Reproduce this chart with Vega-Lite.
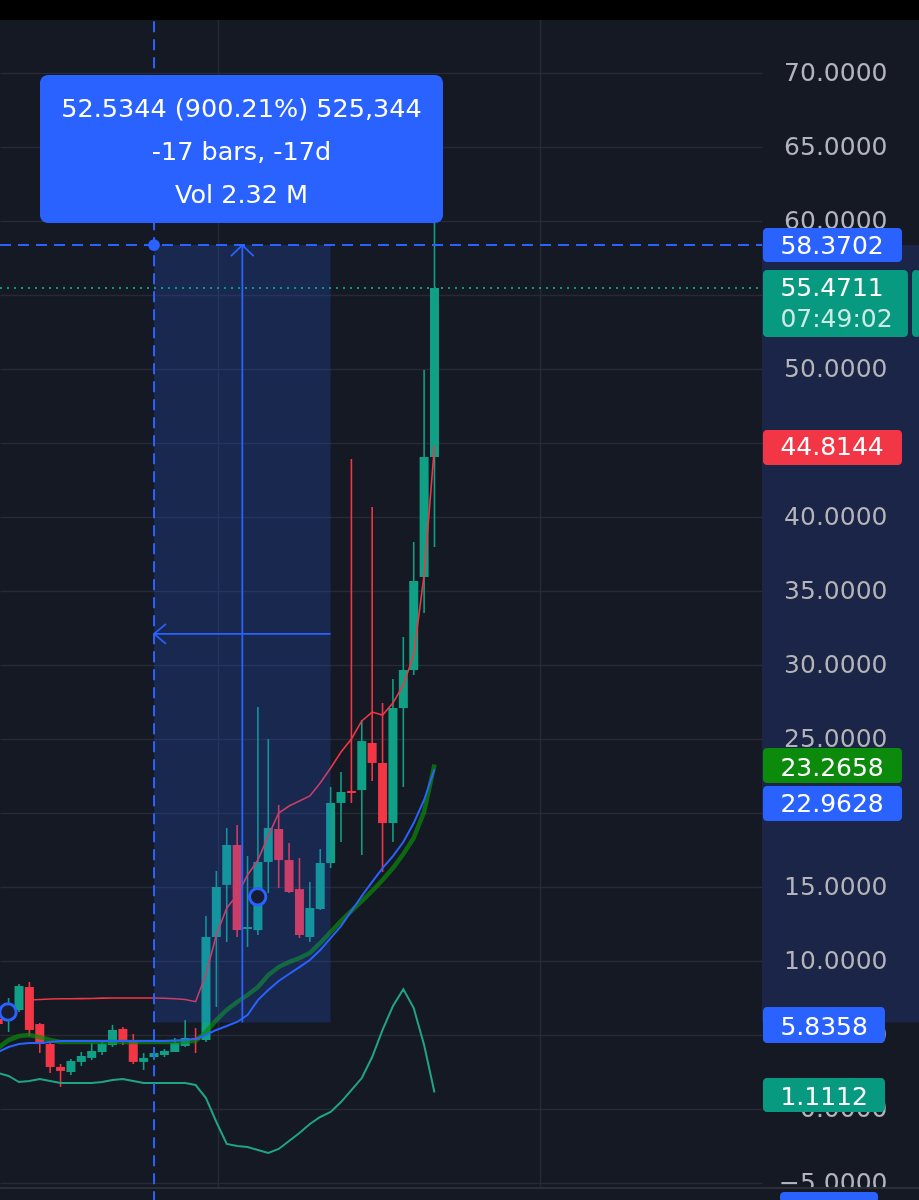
{
  "$schema": "https://vega.github.io/schema/vega-lite/v6.json",
  "width": 762,
  "height": 1200,
  "autosize": {"type": "none"},
  "padding": {"left": 0, "top": 0, "right": 157, "bottom": 0},
  "background": "#151924",
  "config": {"view": {"stroke": null}, "font": "DejaVu Sans", "scale": {"continuousPadding": 0}},
  "datasets": {
    "bars": [
      {"i":0,"o":6.08,"h":6.35,"l":5.34,"c":5.74,"r":null,"b":3.85,"g":4.12,"t":2.43},
      {"i":1,"o":6.15,"h":7.50,"l":5.20,"c":7.09,"r":null,"b":4.19,"g":4.66,"t":2.23},
      {"i":2,"o":6.69,"h":8.45,"l":6.55,"c":8.31,"r":null,"b":4.39,"g":4.93,"t":1.82},
      {"i":3,"o":8.24,"h":8.58,"l":4.93,"c":5.34,"r":7.36,"b":4.46,"g":5.00,"t":1.89},
      {"i":4,"o":5.74,"h":5.81,"l":3.78,"c":4.39,"r":7.40,"b":4.46,"g":4.86,"t":2.03},
      {"i":5,"o":4.39,"h":4.53,"l":2.43,"c":2.84,"r":7.43,"b":4.53,"g":4.66,"t":1.89},
      {"i":6,"o":2.84,"h":3.04,"l":1.49,"c":2.57,"r":7.45,"b":4.59,"g":4.53,"t":1.76},
      {"i":7,"o":2.50,"h":3.38,"l":2.30,"c":3.24,"r":7.45,"b":4.59,"g":4.53,"t":1.76},
      {"i":8,"o":3.18,"h":3.85,"l":2.91,"c":3.58,"r":7.46,"b":4.59,"g":4.53,"t":1.76},
      {"i":9,"o":3.45,"h":4.46,"l":3.31,"c":3.92,"r":7.47,"b":4.59,"g":4.53,"t":1.76},
      {"i":10,"o":3.85,"h":4.66,"l":3.65,"c":4.39,"r":7.49,"b":4.59,"g":4.53,"t":1.82},
      {"i":11,"o":4.32,"h":5.68,"l":4.19,"c":5.34,"r":7.50,"b":4.59,"g":4.53,"t":1.96},
      {"i":12,"o":5.41,"h":5.54,"l":4.32,"c":4.59,"r":7.50,"b":4.59,"g":4.53,"t":2.03},
      {"i":13,"o":4.66,"h":5.07,"l":3.04,"c":3.18,"r":7.50,"b":4.59,"g":4.53,"t":1.89},
      {"i":14,"o":3.18,"h":3.78,"l":2.64,"c":3.45,"r":7.50,"b":4.59,"g":4.53,"t":1.76},
      {"i":15,"o":3.51,"h":4.19,"l":3.31,"c":3.78,"r":7.50,"b":4.59,"g":4.53,"t":1.76},
      {"i":16,"o":3.65,"h":4.05,"l":3.51,"c":3.92,"r":7.48,"b":4.59,"g":4.53,"t":1.76},
      {"i":17,"o":3.85,"h":4.80,"l":3.85,"c":4.46,"r":7.45,"b":4.62,"g":4.53,"t":1.76},
      {"i":18,"o":4.26,"h":6.01,"l":4.19,"c":4.80,"r":7.40,"b":4.66,"g":4.55,"t":1.76},
      {"i":19,"o":4.80,"h":5.47,"l":3.78,"c":4.66,"r":7.25,"b":4.73,"g":4.60,"t":1.62},
      {"i":20,"o":4.66,"h":13.04,"l":4.53,"c":11.62,"r":9.10,"b":5.00,"g":5.20,"t":0.74},
      {"i":21,"o":11.62,"h":16.08,"l":6.89,"c":15.00,"r":11.76,"b":5.34,"g":6.01,"t":-0.88},
      {"i":22,"o":15.14,"h":18.99,"l":11.28,"c":17.84,"r":13.58,"b":5.61,"g":6.69,"t":-2.36},
      {"i":23,"o":17.84,"h":19.19,"l":11.62,"c":12.09,"r":14.46,"b":5.88,"g":7.23,"t":-2.50},
      {"i":24,"o":12.16,"h":17.09,"l":10.95,"c":12.30,"r":15.81,"b":6.35,"g":7.70,"t":-2.57},
      {"i":25,"o":12.09,"h":27.16,"l":11.76,"c":16.69,"r":16.82,"b":7.36,"g":8.24,"t":-2.77},
      {"i":26,"o":16.69,"h":25.00,"l":14.59,"c":18.99,"r":18.45,"b":8.04,"g":9.05,"t":-2.97},
      {"i":27,"o":18.92,"h":20.54,"l":14.93,"c":16.82,"r":20.00,"b":8.65,"g":9.59,"t":-2.70},
      {"i":28,"o":16.82,"h":17.97,"l":14.59,"c":14.66,"r":20.47,"b":9.12,"g":9.93,"t":-2.16},
      {"i":29,"o":14.86,"h":16.96,"l":11.55,"c":11.76,"r":20.81,"b":9.59,"g":10.20,"t":-1.62},
      {"i":30,"o":11.62,"h":15.34,"l":11.28,"c":13.58,"r":21.15,"b":10.07,"g":10.54,"t":-1.01},
      {"i":31,"o":13.51,"h":17.57,"l":13.45,"c":16.62,"r":22.03,"b":10.74,"g":11.22,"t":-0.54},
      {"i":32,"o":16.62,"h":21.76,"l":16.28,"c":20.68,"r":23.04,"b":11.55,"g":11.96,"t":-0.20},
      {"i":33,"o":20.68,"h":22.77,"l":18.04,"c":21.42,"r":24.12,"b":12.36,"g":12.70,"t":0.47},
      {"i":34,"o":21.49,"h":43.92,"l":20.68,"c":21.35,"r":25.00,"b":13.38,"g":13.38,"t":1.28},
      {"i":35,"o":21.55,"h":26.28,"l":17.16,"c":24.86,"r":26.22,"b":14.39,"g":14.05,"t":2.09},
      {"i":36,"o":24.73,"h":40.68,"l":22.16,"c":23.38,"r":26.82,"b":15.34,"g":14.73,"t":3.51},
      {"i":37,"o":23.38,"h":27.43,"l":16.01,"c":19.32,"r":26.62,"b":16.28,"g":15.47,"t":5.34},
      {"i":38,"o":19.32,"h":29.05,"l":18.04,"c":27.09,"r":27.43,"b":17.09,"g":16.28,"t":6.96},
      {"i":39,"o":27.09,"h":31.89,"l":21.76,"c":29.66,"r":28.65,"b":18.04,"g":17.23,"t":8.10},
      {"i":40,"o":29.66,"h":38.31,"l":29.32,"c":35.68,"r":30.68,"b":19.32,"g":18.31,"t":6.82},
      {"i":41,"o":35.95,"h":49.93,"l":33.51,"c":44.05,"r":36.08,"b":20.88,"g":20.07,"t":4.32},
      {"i":42,"o":44.05,"h":59.93,"l":37.97,"c":55.47,"r":44.81,"b":22.96,"g":23.27,"t":1.11}
    ],
    "boxes": [
      {"k":"blue","x":73.62,"x2":87.01,"y":57.23,"y2":59.53},
      {"k":"teal","x":73.62,"x2":87.58,"y":52.16,"y2":56.69},
      {"k":"teal","x":87.97,"x2":88.8,"y":52.16,"y2":56.69},
      {"k":"red","x":73.62,"x2":87.01,"y":43.51,"y2":45.88},
      {"k":"green","x":73.62,"x2":87.01,"y":22.03,"y2":24.39},
      {"k":"blue","x":73.62,"x2":87.01,"y":19.46,"y2":21.82},
      {"k":"blue","x":73.62,"x2":85.37,"y":4.46,"y2":6.89},
      {"k":"teal","x":73.62,"x2":85.37,"y":-0.20,"y2":2.09},
      {"k":"blue","x":75.26,"x2":84.70,"y":-6.3,"y2":-5.61}
    ],
    "boxtext": [
      {"x":75.3,"y":58.31,"t":"58.3702","m":"a"},
      {"x":75.3,"y":55.44,"t":"55.4711","m":"a"},
      {"x":75.3,"y":53.38,"t":"07:49:02","m":"b"},
      {"x":75.3,"y":44.73,"t":"44.8144","m":"a"},
      {"x":75.3,"y":23.07,"t":"23.2658","m":"a"},
      {"x":75.3,"y":20.61,"t":"22.9628","m":"a"},
      {"x":75.3,"y":5.57,"t":"5.8358","m":"a"},
      {"x":75.3,"y":0.84,"t":"1.1112","m":"a"}
    ]
  },
  "layer": [
    {
      "data": {"values": [{"x": 73.53, "x2": 88.8, "y": 5.8358, "y2": 58.3702}]},
      "mark": {"type": "rect", "fill": "#1b2547", "blend": "lighten"},
      "encoding": {
        "x": {"field": "x", "type": "quantitative",
              "scale": {"domain": [0.171, 73.53], "nice": false, "zero": false, "padding": 0},
              "axis": {"values": [21.16, 52.16], "grid": true, "gridColor": "#262a35", "gridWidth": 1.5,
                       "labels": false, "ticks": false, "domain": false, "title": null}},
        "x2": {"field": "x2"},
        "y": {"field": "y", "type": "quantitative",
              "scale": {"domain": [-6.149, 74.932], "nice": false, "zero": false, "padding": 0},
              "axis": {"orient": "right", "values": [-5,0,5,10,15,20,25,30,35,40,45,50,55,60,65,70],
                       "format": ".4f", "grid": true, "gridColor": "#262a35", "gridWidth": 1.5,
                       "ticks": false, "domain": false, "labelAlign": "right", "labelPadding": 125,
                       "labelFont": "DejaVu Sans", "labelFontSize": 25, "labelColor": "#b2b5be",
                       "labelOverlap": false, "title": null}},
        "y2": {"field": "y2"}
      }
    },
    {
      "data": {"name": "bars"},
      "mark": {"type": "rule", "strokeWidth": 1.6},
      "encoding": {
        "x": {"field": "i", "type": "quantitative"},
        "y": {"field": "l", "type": "quantitative"},
        "y2": {"field": "h"},
        "color": {"condition": {"test": "datum.c >= datum.o", "value": "#0fa085"}, "value": "#f23645"}
      }
    },
    {
      "data": {"name": "bars"},
      "mark": {"type": "bar", "size": 9},
      "encoding": {
        "x": {"field": "i", "type": "quantitative"},
        "y": {"field": "o", "type": "quantitative"},
        "y2": {"field": "c"},
        "color": {"condition": {"test": "datum.c >= datum.o", "value": "#0fa085"}, "value": "#f23645"}
      }
    },
    {
      "data": {"name": "bars"},
      "mark": {"type": "line", "color": "#0b8a0b", "opacity": 0.7, "strokeWidth": 4.5},
      "encoding": {"x": {"field": "i", "type": "quantitative"}, "y": {"field": "g", "type": "quantitative"}}
    },
    {
      "data": {"name": "bars"},
      "mark": {"type": "line", "color": "#2962ff", "strokeWidth": 2},
      "encoding": {"x": {"field": "i", "type": "quantitative"}, "y": {"field": "b", "type": "quantitative"}}
    },
    {
      "data": {"name": "bars"},
      "mark": {"type": "line", "color": "#f23645", "strokeWidth": 1.6},
      "encoding": {"x": {"field": "i", "type": "quantitative"}, "y": {"field": "r", "type": "quantitative"}}
    },
    {
      "data": {"name": "bars"},
      "mark": {"type": "line", "color": "#1fa488", "strokeWidth": 2},
      "encoding": {"x": {"field": "i", "type": "quantitative"}, "y": {"field": "t", "type": "quantitative"}}
    },
    {
      "data": {"values": [{"x": 15, "x2": 32, "y": 5.8358, "y2": 58.3702}]},
      "mark": {"type": "rect", "fill": "#2962ff", "opacity": 0.2},
      "encoding": {
        "x": {"field": "x", "type": "quantitative"}, "x2": {"field": "x2"},
        "y": {"field": "y", "type": "quantitative"}, "y2": {"field": "y2"}
      }
    },
    {
      "data": {"values": [
        {"x": 23.5, "x2": 23.5, "y": 5.8358, "y2": 58.3702},
        {"x": 23.5, "x2": 22.4, "y": 58.3702, "y2": 57.62},
        {"x": 23.5, "x2": 24.6, "y": 58.3702, "y2": 57.62},
        {"x": 32, "x2": 15, "y": 32.103, "y2": 32.103},
        {"x": 15, "x2": 16.15, "y": 32.103, "y2": 32.78},
        {"x": 15, "x2": 16.15, "y": 32.103, "y2": 31.43}
      ]},
      "mark": {"type": "rule", "color": "#2962ff", "strokeWidth": 1.8},
      "encoding": {
        "x": {"field": "x", "type": "quantitative"}, "x2": {"field": "x2"},
        "y": {"field": "y", "type": "quantitative"}, "y2": {"field": "y2"}
      }
    },
    {
      "data": {"values": [{"x": 0.171, "x2": 73.53, "y": 55.4711, "y2": 55.4711}]},
      "mark": {"type": "rule", "color": "#089981", "strokeWidth": 2, "strokeDash": [2, 5]},
      "encoding": {
        "x": {"field": "x", "type": "quantitative"}, "x2": {"field": "x2"},
        "y": {"field": "y", "type": "quantitative"}, "y2": {"field": "y2"}
      }
    },
    {
      "data": {"values": [{"x": 0.94, "y": 6.55}, {"x": 24.98, "y": 14.34}]},
      "mark": {"type": "point", "shape": "circle", "filled": true, "fill": "#171e34", "stroke": "#2962ff", "strokeWidth": 3, "size": 270, "opacity": 1},
      "encoding": {"x": {"field": "x", "type": "quantitative"}, "y": {"field": "y", "type": "quantitative"}}
    },
    {
      "data": {"values": [{"x": 0.171, "x2": 88.8, "y": -6.3, "y2": -5.338}]},
      "mark": {"type": "rect", "fill": "#151924"},
      "encoding": {
        "x": {"field": "x", "type": "quantitative"}, "x2": {"field": "x2"},
        "y": {"field": "y", "type": "quantitative"}, "y2": {"field": "y2"}
      }
    },
    {
      "data": {"values": [{"x": 0.171, "x2": 88.8, "y": -5.338, "y2": -5.338}]},
      "mark": {"type": "rule", "color": "#2a2e39", "strokeWidth": 2},
      "encoding": {
        "x": {"field": "x", "type": "quantitative"}, "x2": {"field": "x2"},
        "y": {"field": "y", "type": "quantitative"}, "y2": {"field": "y2"}
      }
    },
    {
      "data": {"values": [
        {"x": 15, "x2": 15, "y": -6.3, "y2": 73.58},
        {"x": 0.171, "x2": 73.53, "y": 58.3702, "y2": 58.3702}
      ]},
      "mark": {"type": "rule", "color": "#2962ff", "strokeWidth": 2, "strokeDash": [11, 7]},
      "encoding": {
        "x": {"field": "x", "type": "quantitative"}, "x2": {"field": "x2"},
        "y": {"field": "y", "type": "quantitative"}, "y2": {"field": "y2"}
      }
    },
    {
      "data": {"values": [{"x": 15, "y": 58.3702}]},
      "mark": {"type": "point", "shape": "circle", "filled": true, "color": "#2962ff", "size": 140, "opacity": 1},
      "encoding": {"x": {"field": "x", "type": "quantitative"}, "y": {"field": "y", "type": "quantitative"}}
    },
    {
      "data": {"values": [{"x": 4.02, "x2": 42.82, "y": 59.865, "y2": 69.865}]},
      "mark": {"type": "rect", "fill": "#2962ff", "cornerRadius": 8},
      "encoding": {
        "x": {"field": "x", "type": "quantitative"}, "x2": {"field": "x2"},
        "y": {"field": "y", "type": "quantitative"}, "y2": {"field": "y2"}
      }
    },
    {
      "data": {"values": [
        {"x": 23.42, "y": 67.55, "t": "52.5344 (900.21%) 525,344"},
        {"x": 23.42, "y": 64.65, "t": "-17 bars, -17d"},
        {"x": 23.42, "y": 61.75, "t": "Vol 2.32 M"}
      ]},
      "mark": {"type": "text", "color": "#ffffff", "font": "DejaVu Sans", "fontSize": 25.5, "align": "center", "baseline": "middle"},
      "encoding": {
        "x": {"field": "x", "type": "quantitative"}, "y": {"field": "y", "type": "quantitative"},
        "text": {"field": "t"}
      }
    },
    {
      "data": {"name": "boxes"},
      "mark": {"type": "rect", "cornerRadius": 4},
      "encoding": {
        "x": {"field": "x", "type": "quantitative"}, "x2": {"field": "x2"},
        "y": {"field": "y", "type": "quantitative"}, "y2": {"field": "y2"},
        "color": {"field": "k", "type": "nominal",
                  "scale": {"domain": ["blue", "teal", "red", "green"], "range": ["#2962ff", "#089981", "#f23645", "#0b8a0b"]},
                  "legend": null}
      }
    },
    {
      "data": {"name": "boxtext"},
      "mark": {"type": "text", "font": "DejaVu Sans", "fontSize": 25, "align": "left", "baseline": "middle"},
      "encoding": {
        "x": {"field": "x", "type": "quantitative"}, "y": {"field": "y", "type": "quantitative"},
        "text": {"field": "t"},
        "color": {"condition": {"test": "datum.m == 'b'", "value": "#cdebe4"}, "value": "#ffffff"}
      }
    },
    {
      "data": {"values": [{"x": 0.171, "x2": 88.8, "y": 73.58, "y2": 75.5}]},
      "mark": {"type": "rect", "fill": "#000000"},
      "encoding": {
        "x": {"field": "x", "type": "quantitative"}, "x2": {"field": "x2"},
        "y": {"field": "y", "type": "quantitative"}, "y2": {"field": "y2"}
      }
    }
  ]
}
